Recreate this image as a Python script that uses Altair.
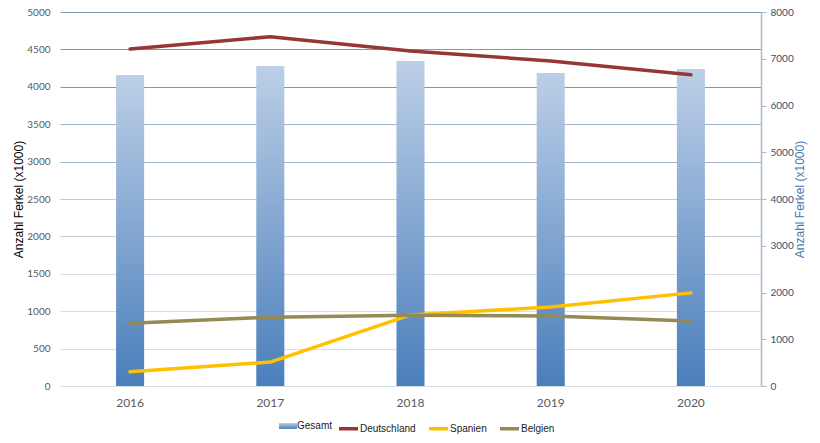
import altair as alt
import pandas as pd

years = ["2016", "2017", "2018", "2019", "2020"]
gesamt = [6650, 6845, 6950, 6695, 6780]
deutschland = [4505, 4670, 4480, 4345, 4160]
spanien = [190, 320, 950, 1055, 1245]
belgien = [840, 920, 945, 935, 870]
line_names = ["Deutschland", "Spanien", "Belgien"]
line_colors = ["#953735", "#ffc000", "#948a54"]

df_bar = pd.DataFrame({"Jahr": years, "Gesamt": gesamt, "Serie": ["Gesamt"] * len(years)})
rows = []
for name, vals in zip(line_names, [deutschland, spanien, belgien]):
    for y, v in zip(years, vals):
        rows.append({"Jahr": y, "Land": name, "Wert": v})
df_lines = pd.DataFrame(rows)

bar_grad = alt.Gradient(
    gradient="linear",
    stops=[alt.GradientStop(color="#bccfe7", offset=0), alt.GradientStop(color="#4a7ebb", offset=1)],
    x1=0, x2=0, y1=0, y2=1,
)

x_enc = alt.X(
    "Jahr:N",
    sort=years,
    scale=alt.Scale(paddingInner=0, paddingOuter=0),
    axis=alt.Axis(title=None, labelAngle=0, domain=False, ticks=False, grid=False,
                  labelPadding=11, labelFontSize=12, labelColor="#595959", labelFont="Lato"),
)

bars = alt.Chart(df_bar).mark_bar(width=alt.RelativeBandSize(0.2), color=bar_grad, strokeWidth=0).encode(
    x=x_enc,
    y=alt.Y(
        "Gesamt:Q",
        scale=alt.Scale(domain=[0, 8000], nice=False),
        axis=alt.Axis(
            orient="right", values=list(range(0, 8001, 1000)), format="d", grid=False,
            domainColor="#a9bacb", domainWidth=1.5, tickColor="#a9bacb", tickSize=5,
            labelColor="#33506f", labelFont="Lato", labelFontSize=10, labelPadding=4,
            title="Anzahl Ferkel (x1000)", titleColor="#4a76b0", titleFont="Liberation Sans",
            titleFontSize=12, titleFontWeight="normal", titleAngle=270, titlePadding=13,
        ),
    ),
    stroke=alt.Stroke(
        "Serie:N",
        scale=alt.Scale(domain=["Gesamt"], range=["#7fa3d3"]),
        legend=alt.Legend(
            orient="none", legendX=219, legendY=405, direction="horizontal", title=None,
            symbolType="M-1,-0.33H1V0.33H-1Z", symbolSize=324, symbolStrokeWidth=0,
            symbolFillColor="#7fa3d3",
            labelFont="Liberation Sans", labelFontSize=10, labelColor="#1a1a1a", labelOffset=0,
        ),
    ),
)

lines = alt.Chart(df_lines).mark_line(strokeWidth=3.5, strokeCap="round", strokeJoin="round").encode(
    x=x_enc,
    y=alt.Y(
        "Wert:Q",
        scale=alt.Scale(domain=[0, 5000], nice=False),
        axis=alt.Axis(
            orient="left", values=list(range(0, 5001, 500)), format="d", domain=False, ticks=False,
            grid=True,
            gridColor={"condition": [
                {"test": "datum.value >= 4000", "value": "#8397ab"},
                {"test": "datum.value >= 3000", "value": "#a3b3c3"},
                {"test": "datum.value >= 2000", "value": "#bfcbd7"},
            ], "value": "#d6dee6"},
            gridWidth=1.2,
            labelColor="#595959", labelFont="Lato", labelFontSize=10, labelPadding=10,
            title="Anzahl Ferkel (x1000)", titleColor="#000000", titleFont="Liberation Sans",
            titleFontSize=12, titleFontWeight="normal", titlePadding=1,
        ),
    ),
    color=alt.Color(
        "Land:N",
        scale=alt.Scale(domain=line_names, range=line_colors),
        legend=alt.Legend(
            orient="none", legendX=277, legendY=405, direction="horizontal", title=None,
            symbolType="stroke", symbolSize=361, symbolStrokeWidth=3.5,
            labelFont="Liberation Sans", labelFontSize=10, labelColor="#1a1a1a",
            labelOffset=0, columnPadding=6,
        ),
    ),
)

chart = alt.layer(bars, lines).resolve_scale(y="independent").properties(
    width=701, height=374,
    autosize=alt.AutoSizeParams(type="none"),
    padding={"left": 52, "top": 4, "right": 51, "bottom": 49},
    background="white",
).configure_view(stroke=None)

chart.save("out.html", embed_options={"renderer": "svg", "actions": False})
